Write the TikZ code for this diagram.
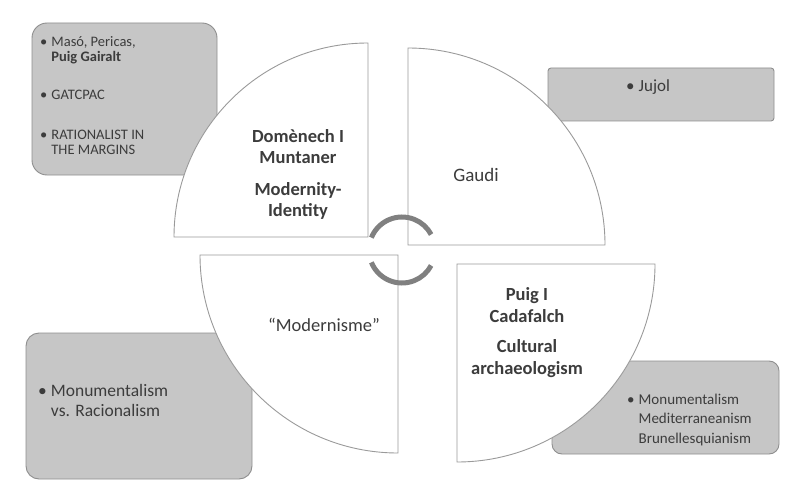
\documentclass[tikz,border=0pt]{standalone}
\usepackage{fontspec}
\setmainfont{Carlito}
\definecolor{boxgray}{HTML}{C6C6C6}
\definecolor{boxedge}{HTML}{8E8E8E}
\definecolor{quadedge}{HTML}{9A9A9A}
\definecolor{txtgray}{HTML}{3C3C3C}
\definecolor{turngray}{HTML}{808080}
\tikzset{
  infobox/.style={fill=boxgray, draw=boxedge, line width=0.9pt},
  quad/.style={fill=white, draw=quadedge, line width=0.9pt},
  listitem/.style={anchor=base west, inner sep=0pt, text=txtgray},
  title/.style={inner sep=0pt, text=txtgray, align=center},
  turn/.style={draw=turngray, line width=5pt}
}
\newcommand{\bul}[1]{\textbullet\hspace{4pt}\begin{tabular}[t]{@{}l@{}}#1\end{tabular}}

\begin{document}
\begin{tikzpicture}[x=1pt,y=1pt]
\useasboundingbox (0,0) rectangle (794,-481);

% grey boxes behind the quarters
\draw [infobox, rounded corners=15pt] (32,-23) rectangle (217,-175);
\draw [infobox, rounded corners=3pt] (548,-68) rectangle (774,-121);
\draw [infobox, rounded corners=13pt] (26,-333) rectangle (252,-479);
\draw [infobox, rounded corners=10pt] (552,-361) rectangle (779,-454);

% the four quarters
\draw [quad] (368,-237) -- (368,-43) arc [start angle=90, end angle=180, radius=194] -- cycle;
\draw [quad] (408,-245) -- (408,-48) arc [start angle=90, end angle=0, radius=197] -- cycle;
\draw [quad] (398,-255) -- (200,-255) arc [start angle=180, end angle=270, radius=198] -- cycle;
\draw [quad] (457,-264) -- (655,-264) arc [start angle=0, end angle=-90, radius=198] -- cycle;

% turning arcs in the middle
\draw [turn] (402,-250) ++(158:33) arc [start angle=158, end angle=28, radius=33];
\draw [turn] (402,-250) ++(-158:33) arc [start angle=-158, end angle=-28, radius=33];

% titles
\node [title, font=\fontsize{18.5}{21}\selectfont\bfseries] (domenech) at (298,-174)
  {Domènech I\\Muntaner\\[11pt]Modernity-\\Identity};
\node [title, font=\fontsize{19}{22}\selectfont] (gaudi) at (476,-175) {Gaudi};
\node [title, font=\fontsize{18.5}{22}\selectfont] (modernisme) at (324,-325) {“Modernisme”};
\node [title, font=\fontsize{18.5}{22}\selectfont\bfseries] (puig) at (527,-333)
  {Puig I\\Cadafalch\\[8pt]Cultural\\archaeologism};

% lists
\begin{scope}[font=\fontsize{14.5}{15}\selectfont]
\node [listitem] (maso) at (40,-47) {\bul{Masó, Pericas,\\\textbf{Puig Gairalt}}};
\node [listitem] (gatcpac) at (40,-100) {\bul{GATCPAC}};
\node [listitem] (margins) at (40,-140) {\bul{RATIONALIST IN\\THE MARGINS}};
\end{scope}
\node [listitem, font=\fontsize{17}{20}\selectfont] (jujol) at (626,-92) {\bul{Jujol}};
\node [listitem, font=\fontsize{17.5}{20}\selectfont] (monvsrac) at (38,-396)
  {\bul{Monumentalism\\vs. Racionalism}};
\node [listitem, font=\fontsize{15}{19.5}\selectfont] (monmed) at (627,-404)
  {\bul{Monumentalism\\Mediterraneanism\\Brunellesquianism}};
\end{tikzpicture}
\end{document}
